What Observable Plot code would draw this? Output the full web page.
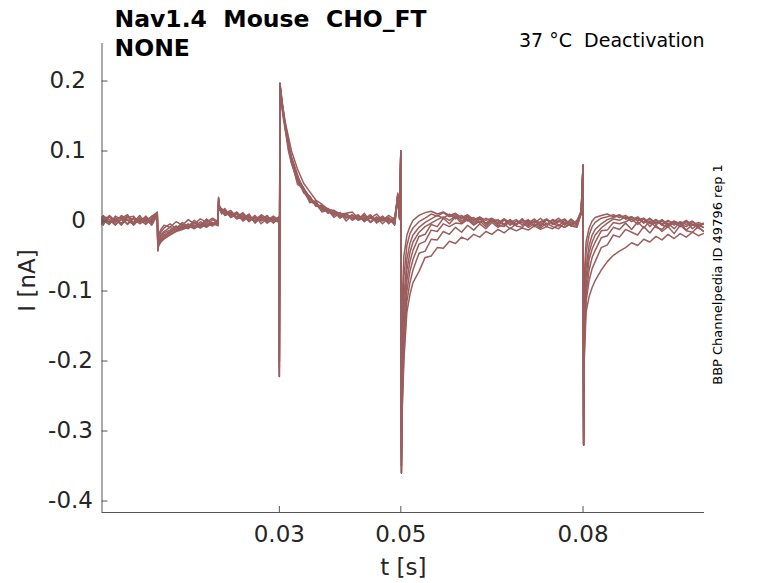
<!DOCTYPE html>
<html>
<head>
<meta charset="utf-8">
<script src="https://cdn.jsdelivr.net/npm/d3@7"></script>
<script src="https://cdn.jsdelivr.net/npm/@observablehq/plot@0.6"></script>
<style>
  body { margin: 0; background: #fff; }
  svg text { white-space: pre; }
</style>
</head>
<body>
<div id="chart"></div>
<script>
// time [s]
const time = [
  0.0008,0.001,0.002,0.003,0.004,0.005,0.006,0.007,0.008,0.009,0.0099,
  0.01,0.0101,0.0105,0.011,0.012,0.013,0.014,0.015,0.016,0.017,0.018,0.019,0.0199,
  0.02,0.0201,0.0205,0.021,0.022,0.023,0.024,0.025,0.026,0.027,0.028,0.029,0.0299,
  0.03,0.0301,0.0303,0.0306,0.031,0.0315,0.032,0.033,0.034,0.035,0.036,0.037,0.038,0.039,0.040,0.041,0.042,0.043,0.044,0.045,0.046,0.047,0.048,0.049,0.0495,0.0498,
  0.05,0.0501,0.0502,0.0505,0.051,0.0515,0.052,0.053,0.054,0.055,0.056,0.057,0.058,0.059,0.060,0.061,0.062,0.063,0.064,0.065,0.066,0.067,0.068,0.069,0.070,0.071,0.072,0.073,0.074,0.075,0.076,0.077,0.078,0.079,0.0797,
  0.08,0.0801,0.0802,0.0805,0.081,0.0815,0.082,0.083,0.084,0.085,0.086,0.087,0.088,0.089,0.090,0.091,0.092,0.093,0.094,0.095,0.096,0.097,0.098,0.099,0.0998
];

// current [nA], one array per sweep
const sweep1 = [
  .004,-.003,.006,-.002,.008,.001,-.005,.005,-.001,.007,.012,
  -.03,-.02,-.012,-.006,-.009,-.001,-.006,.002,-.004,.003,-.002,.004,-.001,
  .028,.018,.012,.016,.006,.011,.002,.008,-.002,.006,.001,.007,.002,
  -.16,.19,.172,.15,.128,.1,.082,.056,.042,.028,.024,.014,.016,.008,.012,.004,.009,.002,.008,-.002,.006,.001,.005,-.003,.03,.004,
  .09,-.3,-.12,-.05,-.02,-.008,.001,.008,.012,.014,.01,.013,.008,.011,.005,.009,.002,.006,.001,.004,-.004,.003,-.002,.002,-.006,.001,-.003,.004,-.005,.002,-.001,.003,-.006,.001,.012,
  .07,-.28,-.08,-.03,-.01,0,.005,.008,.01,.006,.009,.003,.006,.001,.004,-.003,.002,-.004,.001,-.006,-.001,-.005,0,-.007,-.003
];
const sweep2 = [
  -.002,.005,-.004,.003,-.006,.006,.002,-.003,.007,-.002,.01,
  -.036,-.024,-.016,-.01,-.004,-.011,-.002,-.008,.001,-.006,.003,-.005,.002,
  .032,.02,.016,.009,.013,.004,.009,-.001,.006,.002,.008,-.003,.004,
  -.2,.197,.178,.158,.136,.11,.09,.064,.045,.035,.022,.02,.011,.015,.006,.011,.003,.008,-.001,.007,.002,.006,-.004,.004,.036,.006,
  .1,-.33,-.16,-.08,-.035,-.018,-.01,-.001,.004,.01,.007,.012,.006,.009,.003,.007,.001,.005,-.003,.003,0,-.004,.002,-.005,.001,-.003,.003,-.006,.002,-.002,.004,-.004,.001,-.003,.014,
  .08,-.3,-.11,-.045,-.02,-.008,-.002,.004,.006,.009,.005,.008,.002,.006,-.002,.004,-.003,.002,-.005,0,-.004,.001,-.006,-.002,-.005
];
const sweep3 = [
  .006,.001,-.005,.007,.002,-.004,.005,-.001,.003,-.006,.008,
  -.04,-.028,-.02,-.015,-.009,-.013,-.005,-.01,-.002,-.007,.001,-.004,-.006,
  .026,.022,.013,.018,.007,.012,.003,.007,0,.005,-.003,.004,.001,
  -.222,.195,.175,.16,.13,.112,.086,.052,.048,.026,.029,.013,.016,.005,.012,0,.009,.002,.011,-.002,.005,-.004,.004,-.006,.038,.008,
  .1,-.36,-.2,-.11,-.055,-.032,-.02,-.009,-.002,.003,.008,.004,.01,.003,.008,0,.005,-.003,.004,-.001,.002,-.006,.001,-.004,.003,-.007,0,-.002,.002,-.005,.001,-.006,.003,-.004,.01,
  .078,-.32,-.14,-.065,-.035,-.02,-.012,-.004,.002,.005,.008,.003,.006,0,.004,-.004,.002,-.006,0,-.003,-.007,-.001,-.005,-.008,-.004
];
const sweep4 = [
  -.004,.007,.002,-.006,.004,.009,-.003,.002,-.005,.004,.013,
  -.038,-.03,-.022,-.017,-.013,-.007,-.012,-.004,-.009,-.001,-.007,.002,-.003,
  .033,.016,.018,.011,.015,.005,.01,.001,.008,-.004,.004,0,.006,
  -.19,.196,.18,.152,.138,.104,.092,.066,.04,.036,.021,.023,.012,.013,.004,.01,.001,.006,.003,.009,-.003,.004,0,.005,.032,.002,
  .098,-.34,-.22,-.13,-.07,-.045,-.03,-.016,-.008,-.003,.002,.006,.001,.007,0,.006,-.002,.004,-.005,.002,-.003,.003,-.006,0,-.002,.002,-.008,-.001,.003,-.004,-.001,.002,-.007,0,.015,
  .08,-.31,-.16,-.08,-.045,-.03,-.02,-.01,-.003,.003,.001,.006,-.001,.004,-.003,.003,-.005,0,-.007,-.002,-.004,-.008,-.002,-.006,-.009
];
const sweep5 = [
  .002,-.006,.008,0,-.003,.005,.007,-.004,.001,.006,.009,
  -.042,-.032,-.025,-.02,-.015,-.01,-.008,-.011,-.003,-.008,-.002,-.006,0,
  .03,.024,.01,.014,.009,.006,.012,.002,.004,.007,-.002,.005,-.001,
  -.21,.194,.176,.155,.132,.108,.084,.058,.044,.032,.026,.016,.018,.01,.008,.006,.005,.009,0,.005,.001,.007,-.002,.002,.034,.005,
  .1,-.35,-.24,-.15,-.085,-.058,-.042,-.022,-.019,-.005,-.008,.004,-.004,.006,-.003,.005,-.005,.003,-.004,.002,-.007,.001,-.003,-.006,.003,-.005,0,-.008,.002,-.004,-.007,.001,-.005,-.001,.01,
  .075,-.32,-.17,-.095,-.055,-.04,-.03,-.014,-.013,-.002,-.004,-.001,.003,-.005,.003,-.008,.001,-.006,-.009,-.001,-.008,0,-.011,-.004,-.009
];
const sweep6 = [
  -.005,.003,-.001,.005,-.004,.002,-.002,.008,-.003,.002,.011,
  -.04,-.034,-.027,-.022,-.016,-.012,-.009,-.005,-.01,-.004,-.008,-.003,-.005,
  .031,.017,.015,.008,.011,.003,.006,.005,-.001,.009,.003,-.002,.003,
  -.222,.196,.182,.162,.14,.12,.1,.074,.054,.042,.03,.024,.017,.015,.01,.011,.013,.004,.008,.004,.01,.001,.008,.002,.04,.007,
  .1,-.36,-.26,-.17,-.1,-.072,-.055,-.033,-.029,-.013,-.015,-.004,-.008,-.003,-.004,.002,-.006,0,-.008,.001,-.006,-.008,0,-.007,-.009,0,-.007,-.002,-.008,.002,-.006,-.009,-.001,-.006,.012,
  .08,-.32,-.18,-.105,-.07,-.052,-.042,-.024,-.021,-.009,-.012,-.003,-.012,-.001,-.01,0,-.009,-.012,-.003,-.011,-.002,-.013,-.005,-.01,-.014
];
const sweep7 = [
  .003,.008,-.002,.001,.006,-.005,.004,0,.006,-.004,.01,
  -.041,-.035,-.028,-.024,-.018,-.014,-.01,-.007,-.011,-.005,-.009,-.002,-.007,
  .027,.019,.011,.015,.005,.01,0,.006,.003,0,.006,.002,-.002,
  -.2,.195,.177,.156,.134,.106,.087,.061,.043,.031,.025,.018,.013,.011,.007,.009,.004,.006,.002,.004,-.001,.003,.002,-.002,.035,.003,
  .1,-.35,-.27,-.19,-.115,-.088,-.07,-.046,-.043,-.026,-.027,-.015,-.019,-.009,-.016,-.006,-.013,-.004,-.011,-.002,-.009,-.004,-.011,-.004,-.002,-.009,-.004,-.01,-.003,-.008,-.011,-.002,-.007,-.009,.011,
  .078,-.32,-.19,-.115,-.085,-.068,-.058,-.038,-.034,-.02,-.023,-.012,-.016,-.02,-.008,-.017,-.006,-.015,-.008,-.018,-.006,-.014,-.016,-.008,-.015
];
const sweep8 = [
  -.003,.004,.006,-.005,.002,.007,-.006,.003,.004,.001,.012,
  -.043,-.036,-.03,-.026,-.02,-.015,-.012,-.009,-.006,-.01,-.004,-.007,-.002,
  .034,.021,.017,.012,.008,.013,.004,.01,-.003,.006,0,.004,.002,
  -.222,.197,.18,.16,.135,.11,.09,.063,.047,.034,.023,.021,.016,.01,.011,.005,.008,.001,.005,-.001,.003,0,.004,-.004,.038,.004,
  .1,-.36,-.28,-.2,-.13,-.105,-.088,-.072,-.052,-.05,-.038,-.039,-.029,-.032,-.023,-.027,-.019,-.023,-.015,-.019,-.012,-.017,-.01,-.014,-.01,-.013,-.007,-.012,-.008,-.011,-.005,-.009,-.004,-.008,.012,
  .08,-.32,-.2,-.13,-.108,-.095,-.085,-.07,-.058,-.049,-.043,-.038,-.031,-.035,-.026,-.03,-.022,-.027,-.019,-.025,-.018,-.023,-.016,-.021,-.018
];

const xTicks = [0.03, 0.05, 0.08];
const yTicks = [-0.4, -0.3, -0.2, -0.1, 0, 0.1, 0.2];
const xDomain = [0.0008, 0.1];
const yDomain = [-0.4164, 0.2536];

const titleLine1 = "Nav1.4  Mouse  CHO_FT";
const titleLine2 = "NONE";
const condition = "37 °C  Deactivation";
const sideNote = "BBP Channelpedia ID 49796 rep 1";
const xLabel = "t [s]";
const yLabel = "I [nA]";

const traceColor = "#9b5e5e";
const axisColor = "#555555";
const textColor = "#262626";

const sweeps = [sweep1, sweep2, sweep3, sweep4, sweep5, sweep6, sweep7, sweep8];
const rows = sweeps.flatMap((vals, k) => time.map((t, i) => ({t, I: vals[i], sweep: k})));

const fmt = d => String(d);
const yPos = yTicks.filter(d => d >= 0);
const yNeg = yTicks.filter(d => d < 0);

const chart = Plot.plot({
  width: 778,
  height: 583,
  marginLeft: 101.5,
  marginRight: 74,
  marginTop: 43,
  marginBottom: 71,
  style: {fontFamily: "DejaVu Sans", background: "white", overflow: "visible"},
  x: {domain: xDomain},
  y: {domain: yDomain},
  marks: [
    Plot.line(rows, {x: "t", y: "I", z: "sweep", stroke: traceColor, strokeWidth: 1.5, strokeLinejoin: "round"}),
    Plot.ruleX([xDomain[0]], {stroke: axisColor}),
    Plot.ruleY([yDomain[0]], {stroke: axisColor}),
    // inward tick marks
    Plot.axisY(yTicks, {anchor: "left", tickSize: 6, dx: 6, tickFormat: () => "", label: null, stroke: axisColor}),
    Plot.axisX(xTicks, {anchor: "bottom", tickSize: 6, dy: -6, tickFormat: () => "", label: null, stroke: axisColor}),
    // tick labels
    Plot.axisY(yPos, {anchor: "left", tickSize: 0, tickPadding: 16, tickFormat: fmt, fontSize: 23, fill: textColor, label: null}),
    Plot.axisY(yNeg, {anchor: "left", tickSize: 0, tickPadding: 9, tickFormat: fmt, fontSize: 23, fill: textColor, label: null}),
    Plot.axisX(xTicks, {anchor: "bottom", tickSize: 0, tickPadding: 13, tickFormat: fmt, fontSize: 23, fill: textColor, label: null}),
    // axis labels
    Plot.text([xLabel], {text: d => d, frameAnchor: "bottom", textAnchor: "middle", lineAnchor: "middle", dy: 55.6, fontSize: 23, fill: textColor}),
    Plot.text([yLabel], {text: d => d, frameAnchor: "left", textAnchor: "middle", lineAnchor: "middle", rotate: -90, dx: -74, dy: 2.5, fontSize: 23, fill: textColor}),
    // titles and notes
    Plot.text([titleLine1], {text: d => d, frameAnchor: "top-left", textAnchor: "start", lineAnchor: "middle", dx: 12.5, dy: -24.4, fontSize: 23.5, fontWeight: "bold", fill: "black"}),
    Plot.text([titleLine2], {text: d => d, frameAnchor: "top-left", textAnchor: "start", lineAnchor: "middle", dx: 12.5, dy: 4.6, fontSize: 23.5, fontWeight: "bold", fill: "black"}),
    Plot.text([condition], {text: d => d, frameAnchor: "top-right", textAnchor: "end", lineAnchor: "middle", dx: 0, dy: -2.1, fontSize: 19, fill: "black"}),
    Plot.text([sideNote], {text: d => d, frameAnchor: "right", textAnchor: "middle", lineAnchor: "middle", rotate: -90, dx: 13.8, dy: -3.5, fontSize: 13, fill: "black"})
  ]
});
document.getElementById("chart").appendChild(chart);
</script>
</body>
</html>
